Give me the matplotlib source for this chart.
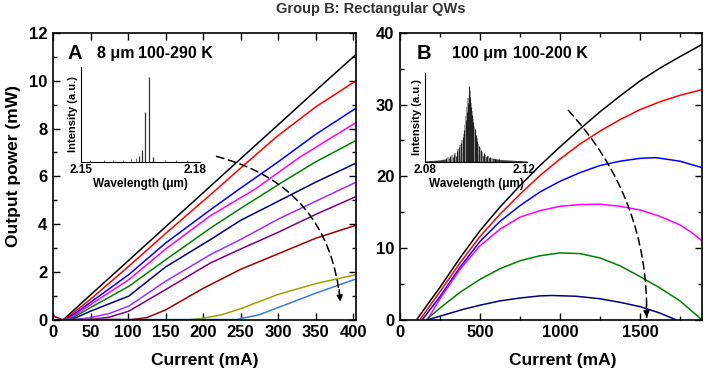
import matplotlib.pyplot as plt
from matplotlib.ticker import MultipleLocator

plt.rcParams['font.family'] = ['Liberation Sans', 'DejaVu Sans']
plt.rcParams['font.weight'] = 'bold'
plt.rcParams['axes.linewidth'] = 1.2

# ---- Panel A: 8 um ridge, 100-290 K (current in mA, power in mW) ----
a_colors = ['black', '#ff0000', '#0000ff', '#ff00ff', '#008000', '#000080',
            '#9b30ff', '#800080', '#a00000', '#a0a000', '#3a80c8']
a_black_I = [14, 50, 101, 150, 209, 250, 300, 350, 404]
a_black_P = [0, 1.03, 2.48, 3.88, 5.56, 6.73, 8.15, 9.58, 11.1]
a_red_I = [16, 50, 101, 150, 210, 254, 298, 350, 404]
a_red_P = [0, 0.85, 2.23, 3.6, 5.23, 6.45, 7.65, 8.9, 10.0]
a_blue_I = [18, 50, 101, 150, 210, 250, 300, 350, 404]
a_blue_P = [0, 0.72, 1.88, 3.2, 4.6, 5.5, 6.6, 7.75, 8.85]
a_mag_I = [20, 50, 101, 150, 210, 269, 329, 404]
a_mag_P = [0, 0.62, 1.67, 2.95, 4.35, 5.45, 6.8, 8.25]
a_green_I = [22, 50, 101, 150, 210, 250, 307, 350, 404]
a_green_P = [0, 0.5, 1.39, 2.5, 3.83, 4.65, 5.78, 6.6, 7.5]
a_navy_I = [25, 50, 101, 150, 210, 250, 300, 350, 404]
a_navy_P = [0, 0.35, 0.98, 2.2, 3.35, 4.15, 4.95, 5.75, 6.55]
a_violet_I = [30, 50, 75, 101, 150, 210, 250, 300, 350, 404]
a_violet_P = [0, 0.08, 0.25, 0.56, 1.6, 2.72, 3.35, 4.2, 4.95, 5.75]
a_purple_I = [50, 75, 101, 150, 210, 250, 300, 350, 404]
a_purple_P = [0, 0.1, 0.35, 1.25, 2.37, 2.95, 3.65, 4.4, 5.15]
a_dred_I = [0, 12, 105, 125, 150, 175, 200, 225, 250, 300, 350, 404]
a_dred_P = [0.15, 0, 0, 0.08, 0.4, 0.85, 1.3, 1.7, 2.1, 2.75, 3.4, 3.95]
a_olive_I = [185, 200, 225, 250, 275, 300, 350, 404]
a_olive_P = [0, 0.05, 0.2, 0.45, 0.75, 1.05, 1.5, 1.88]
a_lblue_I = [0, 245, 275, 300, 350, 404]
a_lblue_P = [0, 0, 0.2, 0.5, 1.1, 1.7]

# ---- Panel B: 100 um ridge, 100-200 K ----
b_colors = ['black', '#ff0000', '#0000ff', '#ff00ff', '#008000', '#000080']
b_black_I = [105, 175, 250, 375, 500, 625, 750, 875, 1000, 1125, 1250, 1375, 1500,
             1625, 1750, 1888]
b_black_P = [0, 2.2, 4.5, 8.6, 12.4, 15.7, 18.7, 21.5, 24.1, 26.6, 29.0, 31.2, 33.3,
             35.1, 36.7, 38.4]
b_red_I = [125, 250, 375, 500, 625, 750, 875, 1000, 1125, 1250, 1375, 1500, 1625,
           1750, 1888]
b_red_P = [0, 3.9, 7.9, 11.6, 14.7, 17.5, 20.1, 22.4, 24.5, 26.3, 27.9, 29.3, 30.4,
           31.3, 32.1]
b_blue_I = [140, 250, 375, 500, 625, 750, 875, 1000, 1125, 1250, 1375, 1500, 1600,
            1750, 1888]
b_blue_P = [0, 3.2, 7.3, 10.9, 13.7, 15.9, 17.8, 19.3, 20.5, 21.5, 22.1, 22.5, 22.6,
            22.1, 21.2]
b_mag_I = [172, 250, 375, 500, 625, 750, 875, 1000, 1125, 1250, 1375, 1500, 1625,
           1750, 1820, 1888]
b_mag_P = [0, 2.9, 7.0, 10.3, 12.6, 14.3, 15.2, 15.8, 16.05, 16.1, 15.8, 15.3, 14.4,
           13.2, 12.2, 11.0]
b_green_I = [165, 250, 375, 500, 625, 750, 875, 1000, 1125, 1250, 1375, 1500, 1625,
             1750, 1885]
b_green_P = [0, 1.6, 3.8, 5.6, 7.1, 8.2, 8.9, 9.3, 9.2, 8.6, 7.5, 6.0, 4.4, 2.6, 0]
b_navy_I = [180, 300, 400, 500, 625, 750, 875, 950, 1100, 1250, 1375, 1500, 1625, 1720]
b_navy_P = [0, 0.8, 1.45, 2.0, 2.6, 3.0, 3.3, 3.35, 3.25, 2.9, 2.4, 1.8, 0.9, 0]

# ---- inset spectra ----
sa_wl = [2.1654, 2.1661, 2.1670, 2.1678, 2.1690]
sa_h = [0.07, 0.14, 0.59, 1.0, 0.06]
sa_noise_wl = [2.1525, 2.1560, 2.1585, 2.1610, 2.1632, 2.1645, 2.1720, 2.1750, 2.1778]
sa_noise_h = [0.02, 0.015, 0.02, 0.015, 0.03, 0.04, 0.02, 0.015, 0.02]

sb_black_wl = [2.0885, 2.0900, 2.0915, 2.0928, 2.0938, 2.0946, 2.0953, 2.0959, 2.0964,
               2.0968, 2.0972, 2.0976, 2.0979, 2.0983, 2.0987, 2.0991, 2.0995, 2.1000,
               2.1005, 2.1011, 2.1018, 2.1026, 2.1036, 2.1048, 2.1062, 2.1080, 2.1100]
sb_black_h = [0.05, 0.07, 0.10, 0.14, 0.19, 0.25, 0.33, 0.42, 0.55, 0.66, 0.78, 0.90,
              1.00, 0.85, 0.72, 0.62, 0.52, 0.43, 0.35, 0.28, 0.21, 0.16, 0.11, 0.08,
              0.06, 0.04, 0.03]
sb_grey_wl = [2.0893, 2.0908, 2.0922, 2.0933, 2.0942, 2.0950, 2.0956, 2.0962, 2.0966,
              2.0970, 2.0974, 2.0981, 2.0985, 2.0989, 2.0993, 2.0998, 2.1003, 2.1008,
              2.1015, 2.1022, 2.1031, 2.1042, 2.1055, 2.1070]
sb_grey_h = [0.06, 0.09, 0.12, 0.17, 0.22, 0.29, 0.37, 0.48, 0.60, 0.72, 0.84, 0.93,
             0.78, 0.67, 0.57, 0.47, 0.39, 0.31, 0.24, 0.18, 0.13, 0.09, 0.07, 0.05]
sb_base_wl = [2.080, 2.086, 2.090, 2.094, 2.097, 2.0985, 2.100, 2.104, 2.110, 2.121]
sb_base_h = [0.01, 0.025, 0.05, 0.09, 0.13, 0.14, 0.12, 0.07, 0.03, 0.01]

fig = plt.figure(figsize=(7.06, 3.72), dpi=100)
axA = fig.add_axes([0.0751, 0.1411, 0.4292, 0.7702])
axB = fig.add_axes([0.5666, 0.1411, 0.4278, 0.7702])

a_I = [a_black_I, a_red_I, a_blue_I, a_mag_I, a_green_I, a_navy_I, a_violet_I,
       a_purple_I, a_dred_I, a_olive_I, a_lblue_I]
a_P = [a_black_P, a_red_P, a_blue_P, a_mag_P, a_green_P, a_navy_P, a_violet_P,
       a_purple_P, a_dred_P, a_olive_P, a_lblue_P]
for I, P, c in zip(a_I, a_P, a_colors):
    axA.plot(I, P, color=c, lw=1.1)

b_I = [b_black_I, b_red_I, b_blue_I, b_mag_I, b_green_I, b_navy_I]
b_P = [b_black_P, b_red_P, b_blue_P, b_mag_P, b_green_P, b_navy_P]
for I, P, c in zip(b_I, b_P, b_colors):
    axB.plot(I, P, color=c, lw=1.1)

axA.set_xlim(0, 404)
axA.set_ylim(0, 12)
axA.xaxis.set_major_locator(MultipleLocator(50))
axA.yaxis.set_major_locator(MultipleLocator(2))
axA.yaxis.set_minor_locator(MultipleLocator(1))

axB.set_xlim(0, 1888)
axB.set_ylim(0, 40)
axB.xaxis.set_major_locator(MultipleLocator(500))
axB.xaxis.set_minor_locator(MultipleLocator(250))
axB.yaxis.set_major_locator(MultipleLocator(10))
axB.yaxis.set_minor_locator(MultipleLocator(5))

for ax in (axA, axB):
    ax.tick_params(which='both', direction='in', top=True, right=True, width=1)
    ax.tick_params(which='major', length=5, labelsize=12, pad=4)
    ax.tick_params(which='minor', length=3)
    for lab in ax.get_xticklabels() + ax.get_yticklabels():
        lab.set_fontweight('bold')

axA.set_xlabel('Current (mA)', fontsize=12.5, fontweight='bold')
axA.xaxis.set_label_coords(0.502, -0.117)
axA.set_ylabel('Output power (mW)', fontsize=12.5, fontweight='bold')
axA.yaxis.set_label_coords(-0.105, 0.536)
axB.set_xlabel('Current (mA)', fontsize=12.5, fontweight='bold')
axB.xaxis.set_label_coords(0.538, -0.117)

# dashed arrows (temperature increase)
def dashed_arrow(ax, start, end, rad, head_from):
    ax.annotate('', xy=end, xytext=start,
                arrowprops=dict(arrowstyle='-', connectionstyle='arc3,rad=%g' % rad,
                                linestyle=(0, (5, 3)), lw=1.1, color='black',
                                shrinkA=0, shrinkB=0))
    ax.annotate('', xy=end, xytext=head_from,
                arrowprops=dict(arrowstyle='-|>', mutation_scale=9, lw=1.0,
                                color='black', shrinkA=0, shrinkB=0))

dashed_arrow(axA, (218, 6.83), (383, 0.75), -0.35, (381.5, 1.25))
dashed_arrow(axB, (1052, 29.2), (1542, 0.3), -0.2, (1540, 2.0))

fig.text(0.5255, 0.976, 'Group B: Rectangular QWs', ha='center', va='center',
         fontsize=10.5, fontweight='bold', color='#333333')
fig.text(0.0963, 0.8575, 'A', ha='left', va='center', fontsize=14.5, fontweight='bold')
fig.text(0.1374, 0.8575, '8 μm', ha='left', va='center', fontsize=11.5, fontweight='bold')
fig.text(0.1955, 0.8575, '100-290 K', ha='left', va='center', fontsize=11.5, fontweight='bold')
fig.text(0.5907, 0.8575, 'B', ha='left', va='center', fontsize=14.5, fontweight='bold')
fig.text(0.640, 0.8575, '100 μm', ha='left', va='center', fontsize=11.5, fontweight='bold')
fig.text(0.7266, 0.8575, '100-200 K', ha='left', va='center', fontsize=11.5, fontweight='bold')

# insets
insA = fig.add_axes([0.1143, 0.5653, 0.169, 0.2554])
insA.vlines(sa_wl, 0, sa_h, color='#333333', lw=0.9)
insA.vlines(sa_noise_wl, 0, sa_noise_h, color='#555555', lw=0.6)
insA.set_xlim(2.15, 2.1813)
insA.set_ylim(0, 1.12)
insA.set_xticks([2.15, 2.18])

insB = fig.add_axes([0.602, 0.5653, 0.1445, 0.2376])
insB.fill_between(sb_base_wl, 0, sb_base_h, color='#444444', lw=0)
insB.vlines(sb_grey_wl, 0, sb_grey_h, color='#9a9a9a', lw=1.3)
insB.vlines(sb_black_wl, 0, sb_black_h, color='#222222', lw=0.8)
insB.set_xlim(2.08, 2.1211)
insB.set_ylim(0, 1.17)
insB.set_xticks([2.08, 2.12])

for ins in (insA, insB):
    ins.patch.set_alpha(0)
    ins.spines['top'].set_visible(False)
    ins.spines['right'].set_visible(False)
    ins.spines['left'].set_linewidth(0.8)
    ins.spines['bottom'].set_linewidth(0.8)
    ins.set_yticks([])
    ins.tick_params(axis='x', length=0, labelsize=8.5, pad=2)
    for lab in ins.get_xticklabels():
        lab.set_fontweight('bold')
    ins.set_xlabel('Wavelength (μm)', fontsize=8.5, fontweight='bold', labelpad=1)
    ins.set_ylabel('Intensity (a.u.)', fontsize=8, fontweight='bold', labelpad=2)

fig.savefig('out.png', dpi=100)
